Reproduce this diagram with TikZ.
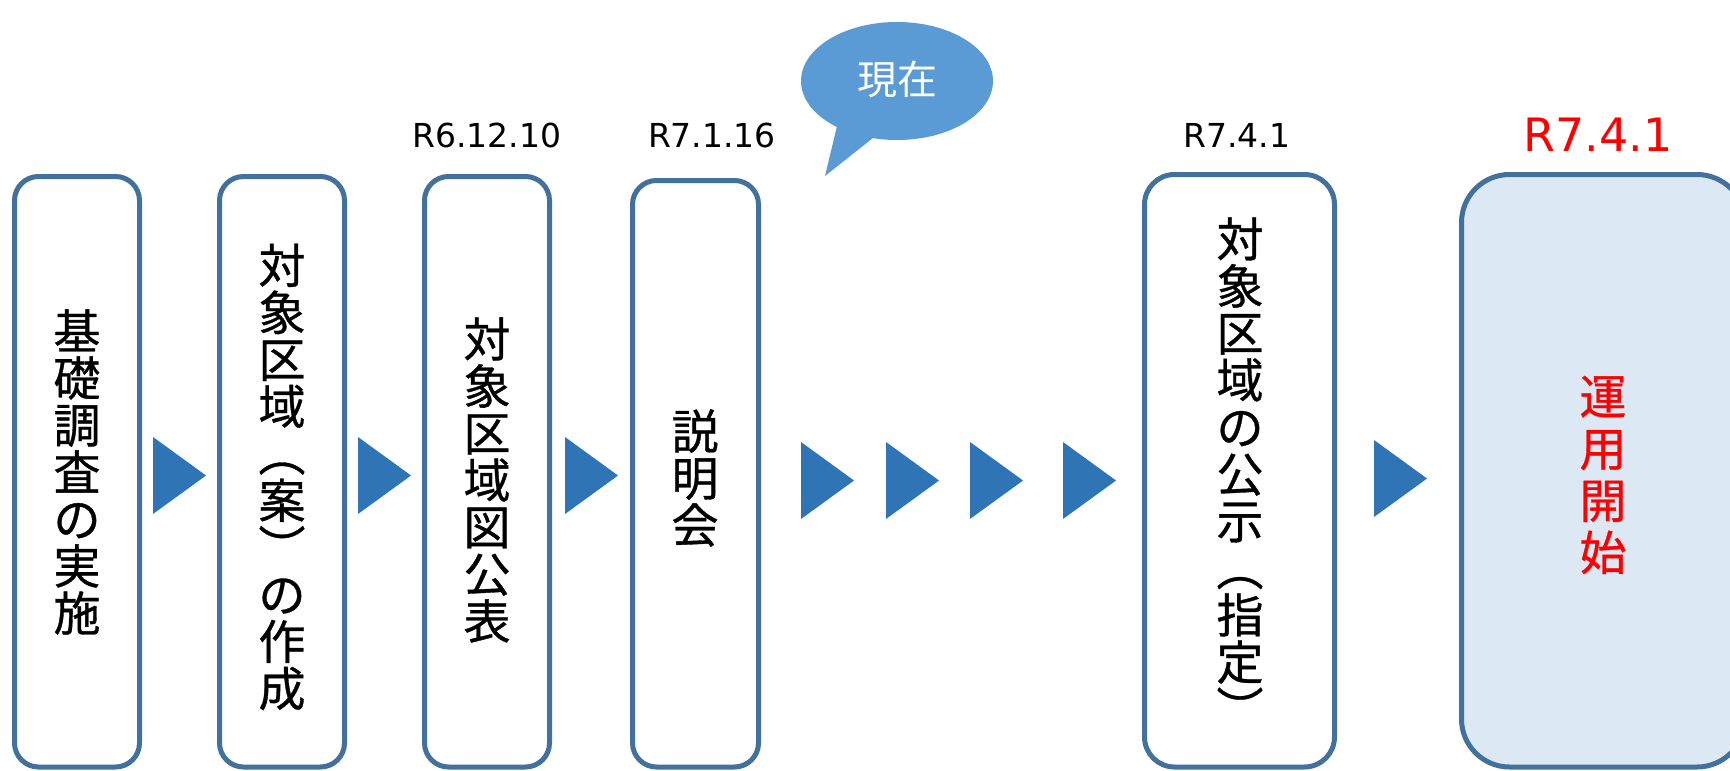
\documentclass[tikz,border=0pt]{standalone}
\usepackage{fontspec}
\setmainfont{DejaVu Sans}
\newfontfamily\jp[FakeBold=0.7]{Noto Sans CJK JP}
\newfontfamily\jplight{Noto Sans CJK JP}
\usetikzlibrary{shapes.geometric}
\definecolor{boxline}{RGB}{65,113,156}
\definecolor{arrowfill}{RGB}{47,117,182}
\definecolor{bubblefill}{RGB}{91,155,213}
\definecolor{lastfill}{RGB}{221,232,245}
\lineskiplimit=-100pt
\begin{document}
\begin{tikzpicture}[x=1pt,y=-1pt,
  stepbox/.style={draw=boxline, line width=5pt, rectangle, inner sep=0pt},
  vtext/.style={align=center, inner sep=0pt, font=\jp\fontsize{47}{47}\selectfont},
  datelbl/.style={anchor=base, inner sep=0pt, font=\fontsize{33}{38}\selectfont},
  tri/.style={fill=arrowfill}]
\useasboundingbox (0,0) rectangle (1730,771);
\clip (0,0) rectangle (1730,771);
\fill[white] (0,0) rectangle (1730,771);

% boxes
\node[stepbox, rounded corners=24pt, minimum width=125pt, minimum height=590.5pt] (b1) at (77,471.75) {};
\node[stepbox, rounded corners=24pt, minimum width=125pt, minimum height=590.5pt] (b2) at (282,471.75) {};
\node[stepbox, rounded corners=24pt, minimum width=125pt, minimum height=590.5pt] (b3) at (487,471.75) {};
\node[stepbox, rounded corners=24pt, minimum width=126pt, minimum height=586.5pt] (b4) at (695.5,473.75) {};
\node[stepbox, rounded corners=30pt, minimum width=190pt, minimum height=592.5pt] (b5) at (1239.5,470.75) {};
\node[stepbox, fill=lastfill, rounded corners=48pt, minimum width=283.5pt, minimum height=592.5pt] (b6) at (1603.25,470.75) {};

% box texts
\node[vtext] (t1) at (77,472) {基\\礎\\調\\査\\の\\実\\施};
\node[vtext] (t2) at (282,477) {対\\象\\区\\域\\︵\\案\\︶\\の\\作\\成};
\node[vtext] (t3) at (487,480) {対\\象\\区\\域\\図\\公\\表};
\node[vtext] (t4) at (695,478) {説\\明\\会};
\node[vtext] (t5) at (1240,472) {対\\象\\区\\域\\の\\公\\示\\︵\\指\\定\\︶};
\node[vtext, text=red, font=\jp\fontsize{47}{52}\selectfont] (t6) at (1603,475) {運\\用\\開\\始};

% dates
\node[datelbl] (d3) at (487,147) {R6.12.10};
\node[datelbl] (d4) at (712,147) {R7.1.16};
\node[datelbl] (d5) at (1237,147) {R7.4.1};
\node[datelbl, text=red, font=\fontsize{46}{52}\selectfont] (d6) at (1598,151) {R7.4.1};

% arrows (triangles)
\fill[tri] (153,437) -- ++(53,38.5) -- ++(-53,38.5) -- cycle;
\fill[tri] (358,437) -- ++(53,38.5) -- ++(-53,38.5) -- cycle;
\fill[tri] (565,437) -- ++(53,38.5) -- ++(-53,38.5) -- cycle;
\fill[tri] (801,442) -- ++(53,38.5) -- ++(-53,38.5) -- cycle;
\fill[tri] (886,442) -- ++(53,38.5) -- ++(-53,38.5) -- cycle;
\fill[tri] (970,442) -- ++(53,38.5) -- ++(-53,38.5) -- cycle;
\fill[tri] (1063,442) -- ++(53,38.5) -- ++(-53,38.5) -- cycle;
\fill[tri] (1374,440) -- ++(53,38.5) -- ++(-53,38.5) -- cycle;

% speech bubble
\node[ellipse, fill=bubblefill, inner sep=0pt, minimum width=192pt, minimum height=118pt] (bubble) at (897,81) {};
\fill[bubblefill] (838,122) -- (825,176) -- (878,134) -- cycle;
\node[inner sep=0pt, text=white, font=\jplight\fontsize{40}{44}\selectfont] (now) at (897,79) {現在};
\end{tikzpicture}
\end{document}
